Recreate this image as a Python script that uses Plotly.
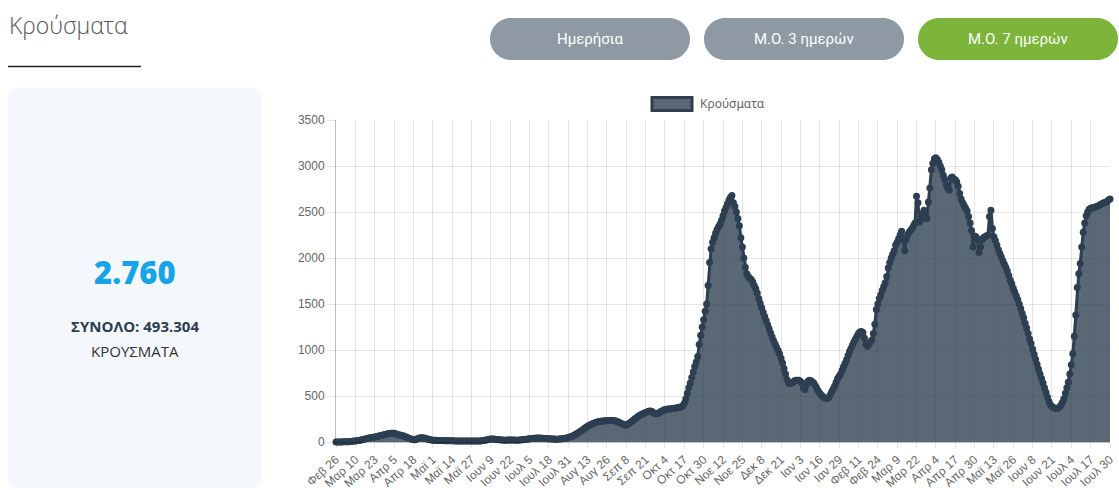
import pandas as pd
import plotly.graph_objects as go

# --- data: 7-day moving average of new cases, one value per day from 26 Feb 2020 ---
start_date = "2020-02-26"
cases_7d = [
    1, 1, 1, 1, 1, 2, 2, 3, 3, 4, 6, 8, 10,
    12, 14, 17, 20, 23, 27, 31, 35, 39, 43, 46, 49, 52,
    55, 58, 62, 66, 70, 74, 78, 82, 86, 90, 93, 95, 96,
    94, 90, 85, 80, 76, 72, 68, 62, 55, 48, 42, 36, 30,
    26, 24, 30, 38, 44, 46, 46, 44, 40, 36, 30, 26, 22,
    20, 19, 18, 17, 16, 16, 15, 15, 14, 14, 14, 13, 13,
    13, 13, 12, 12, 12, 11, 11, 11, 10, 10, 10, 10, 10,
    10, 10, 10, 10, 11, 11, 12, 13, 15, 18, 22, 26, 30,
    32, 33, 32, 30, 28, 26, 24, 22, 21, 20, 20, 21, 22,
    22, 22, 21, 21, 20, 20, 21, 22, 24, 26, 28, 30, 32,
    34, 36, 38, 40, 42, 43, 44, 44, 42, 40, 38, 37, 36,
    35, 34, 33, 32, 32, 31, 31, 32, 34, 36, 38, 41, 44,
    48, 53, 59, 66, 74, 83, 93, 103, 114, 125, 137, 149, 160,
    170, 180, 189, 197, 204, 210, 215, 219, 222, 225, 227, 229, 231,
    233, 234, 235, 235, 234, 232, 228, 222, 215, 207, 199, 192, 186,
    184, 192, 203, 216, 229, 242, 255, 267, 279, 289, 298, 306, 313,
    320, 327, 333, 338, 334, 322, 312, 308, 310, 318, 328, 338, 346,
    352, 356, 358, 360, 362, 364, 366, 368, 371, 374, 378, 384, 395,
    420, 470, 530, 590, 640, 700, 760, 820, 870, 930, 1060, 1160, 1250,
    1330, 1420, 1500, 1700, 1950, 2100, 2170, 2220, 2270, 2310, 2340, 2370, 2410,
    2460, 2510, 2550, 2590, 2630, 2660, 2680, 2600, 2560, 2500, 2430, 2350, 2220,
    2120, 2000, 1900, 1830, 1800, 1780, 1765, 1740, 1700, 1665, 1620, 1560, 1510,
    1460, 1410, 1365, 1320, 1275, 1230, 1185, 1140, 1100, 1065, 1030, 995, 960,
    910, 860, 800, 740, 680, 640, 635, 640, 650, 665, 670, 672, 670,
    660, 640, 590, 570, 620, 660, 670, 665, 655, 640, 615, 585, 555,
    530, 510, 495, 482, 475, 473, 485, 510, 545, 575, 610, 650, 690,
    715, 740, 780, 820, 855, 895, 940, 985, 1020, 1055, 1090, 1120, 1150,
    1180, 1195, 1200, 1190, 1130, 1060, 1040, 1060, 1090, 1110, 1180, 1280, 1440,
    1500, 1560, 1600, 1650, 1690, 1730, 1800, 1890, 1950, 2000, 2040, 2080, 2140,
    2170, 2210, 2250, 2290, 2200, 2080, 2200, 2250, 2280, 2300, 2320, 2350, 2380,
    2670, 2600, 2390, 2420, 2480, 2520, 2470, 2430, 2610, 2760, 2960, 3030, 3080,
    3090, 3070, 3040, 3000, 2960, 2900, 2850, 2800, 2760, 2740, 2870, 2880, 2860,
    2850, 2830, 2780, 2700, 2640, 2600, 2570, 2540, 2510, 2450, 2380, 2300, 2120,
    2240, 2230, 2200, 2060, 2120, 2200, 2220, 2230, 2240, 2250, 2450, 2520, 2320,
    2230, 2190, 2140, 2090, 2050, 2010, 1970, 1935, 1900, 1860, 1810, 1760, 1720,
    1670, 1630, 1590, 1550, 1500, 1450, 1400, 1350, 1290, 1240, 1180, 1120, 1070,
    1010, 955, 900, 845, 790, 740, 690, 640, 590, 540, 490, 440, 405,
    385, 375, 368, 364, 368, 380, 400, 430, 470, 530, 590, 650, 740,
    840, 960, 1150, 1380, 1680, 1830, 1940, 2120, 2280, 2380, 2460, 2500, 2530,
    2540, 2545, 2550, 2555, 2560, 2565, 2575, 2585, 2595, 2600, 2605, 2615, 2630,
    2640,
]
tick_labels = [
    "Φεβ 26", "Μαρ 10", "Μαρ 23", "Απρ 5", "Απρ 18", "Μαϊ 1", "Μαϊ 14", "Μαϊ 27",
    "Ιουν 9", "Ιουν 22", "Ιουλ 5", "Ιουλ 18", "Ιουλ 31", "Αυγ 13", "Αυγ 26",
    "Σεπ 8", "Σεπ 21", "Οκτ 4", "Οκτ 17", "Οκτ 30", "Νοε 12", "Νοε 25", "Δεκ 8",
    "Δεκ 21", "Ιαν 3", "Ιαν 16", "Ιαν 29", "Φεβ 11", "Φεβ 24", "Μαρ 9", "Μαρ 22",
    "Απρ 4", "Απρ 17", "Απρ 30", "Μαϊ 13", "Μαϊ 26", "Ιουν 8", "Ιουν 21",
    "Ιουλ 4", "Ιουλ 17", "Ιουλ 30",
]
buttons = ["Ημερήσια", "Μ.Ο. 3 ημερών", "Μ.Ο. 7 ημερών"]
latest_value = "2.760"
total_text = "ΣΥΝΟΛΟ: 493.304"

dates = pd.date_range(start_date, periods=len(cases_7d), freq="D")
tick_step = 13

LINE = "#2c3e50"
FILL = "rgba(44,62,80,0.78)"
GRID = "rgba(0,0,0,0.1)"

# plot area in page pixels
L, T, W, H = 336, 120, 774, 322
FIG_W, FIG_H = 1119, 490


def px(x):
    return (x - L) / W


def py(y):
    return (T + H - y) / H


def rounded_rect(x0, y0, x1, y1, r):
    k = 0.5523 * r
    pts = [
        ("M", [(x0 + r, y0)]),
        ("L", [(x1 - r, y0)]),
        ("C", [(x1 - r + k, y0), (x1, y0 + r - k), (x1, y0 + r)]),
        ("L", [(x1, y1 - r)]),
        ("C", [(x1, y1 - r + k), (x1 - r + k, y1), (x1 - r, y1)]),
        ("L", [(x0 + r, y1)]),
        ("C", [(x0 + r - k, y1), (x0, y1 - r + k), (x0, y1 - r)]),
        ("L", [(x0, y0 + r)]),
        ("C", [(x0, y0 + r - k), (x0 + r - k, y0), (x0 + r, y0)]),
    ]
    out = ""
    for cmd, coords in pts:
        out += cmd + " " + " ".join(f"{px(a):.5f},{py(b):.5f}" for a, b in coords) + " "
    return out + "Z"


fig = go.Figure()
fig.add_trace(go.Scatter(
    x=dates, y=cases_7d,
    mode="lines+markers",
    fill="tozeroy", fillcolor=FILL,
    line=dict(color=LINE, width=3),
    marker=dict(size=7, color=LINE),
    cliponaxis=False,
    showlegend=False,
    name="Κρούσματα",
))

shapes = []
annotations = []

# page title with underline
annotations.append(dict(text="Κρούσματα", x=px(7), y=py(25), xref="paper", yref="paper",
                        xanchor="left", yanchor="middle", showarrow=False,
                        font=dict(family="Open Sans", size=23, color="#555", weight=300)))
shapes.append(dict(type="line", xref="paper", yref="paper", x0=px(8), x1=px(141),
                   y0=py(66.5), y1=py(66.5), line=dict(color="#222", width=1.5)))

# toggle buttons
btn_x = [490, 704, 918]
btn_colors = ["#8e99a4", "#8e99a4", "#7cb53a"]
for bx, label, col in zip(btn_x, buttons, btn_colors):
    shapes.append(dict(type="path", xref="paper", yref="paper",
                       path=rounded_rect(bx, 18, bx + 200, 60, 21),
                       fillcolor=col, line=dict(width=0)))
    annotations.append(dict(text=label, x=px(bx + 100), y=py(39), xref="paper", yref="paper",
                            showarrow=False, xanchor="center", yanchor="middle",
                            font=dict(family="Roboto", size=15, color="white")))

# left summary card
shapes.append(dict(type="path", xref="paper", yref="paper", layer="below",
                   path=rounded_rect(8, 88, 262, 488, 10),
                   fillcolor="#f4f8fd", line=dict(width=0)))
annotations.append(dict(text=latest_value, x=px(135), y=py(272), xref="paper", yref="paper",
                        showarrow=False, xanchor="center", yanchor="middle",
                        font=dict(family="Open Sans", size=31, color="#17a4e6", weight=800)))
annotations.append(dict(text=f"<b>{total_text}</b>", x=px(135), y=py(326), xref="paper", yref="paper",
                        showarrow=False, xanchor="center", yanchor="middle",
                        font=dict(family="Open Sans", size=15, color=LINE)))
annotations.append(dict(text="ΚΡΟΥΣΜΑΤΑ", x=px(135), y=py(351), xref="paper", yref="paper",
                        showarrow=False, xanchor="center", yanchor="middle",
                        font=dict(family="Open Sans", size=15, color="#333")))

# legend (drawn by hand, chart.js style)
shapes.append(dict(type="rect", xref="paper", yref="paper",
                   x0=px(652), x1=px(692), y0=py(97.5), y1=py(110.5),
                   fillcolor=FILL, line=dict(color=LINE, width=3)))
annotations.append(dict(text="Κρούσματα", x=px(698), y=py(104), xref="paper", yref="paper",
                        showarrow=False, xanchor="left", yanchor="middle",
                        font=dict(family="Noto Sans", size=12, color="#666")))

axis_font = dict(family="Liberation Sans, Arial, sans-serif", size=12, color="#666")
fig.update_layout(
    width=FIG_W, height=FIG_H,
    margin=dict(l=L, r=FIG_W - L - W, t=T, b=FIG_H - T - H),
    paper_bgcolor="white", plot_bgcolor="white",
    shapes=shapes, annotations=annotations,
    xaxis=dict(
        range=[dates[0], dates[-1]],
        tickmode="array", tickvals=list(dates[::tick_step]), ticktext=tick_labels,
        tickangle=-42, tickfont=axis_font, automargin=False,
        showgrid=True, gridcolor=GRID, gridwidth=1,
        ticks="outside", ticklen=5, tickcolor=GRID,
        showline=True, linecolor="rgba(0,0,0,0.25)", zeroline=False,
    ),
    yaxis=dict(
        range=[0, 3500], dtick=500, tickfont=axis_font, automargin=False,
        showgrid=True, gridcolor=GRID, gridwidth=1,
        ticks="outside", ticklen=8, tickcolor=GRID,
        showline=True, linecolor="rgba(0,0,0,0.25)", zeroline=False,
    ),
    hovermode=False,
)

# page body has a default 8px margin; drop it so the figure sits at the window origin
fig.write_html("out.html", config={"displayModeBar": False},
               post_script="document.body.style.margin='0px';")
